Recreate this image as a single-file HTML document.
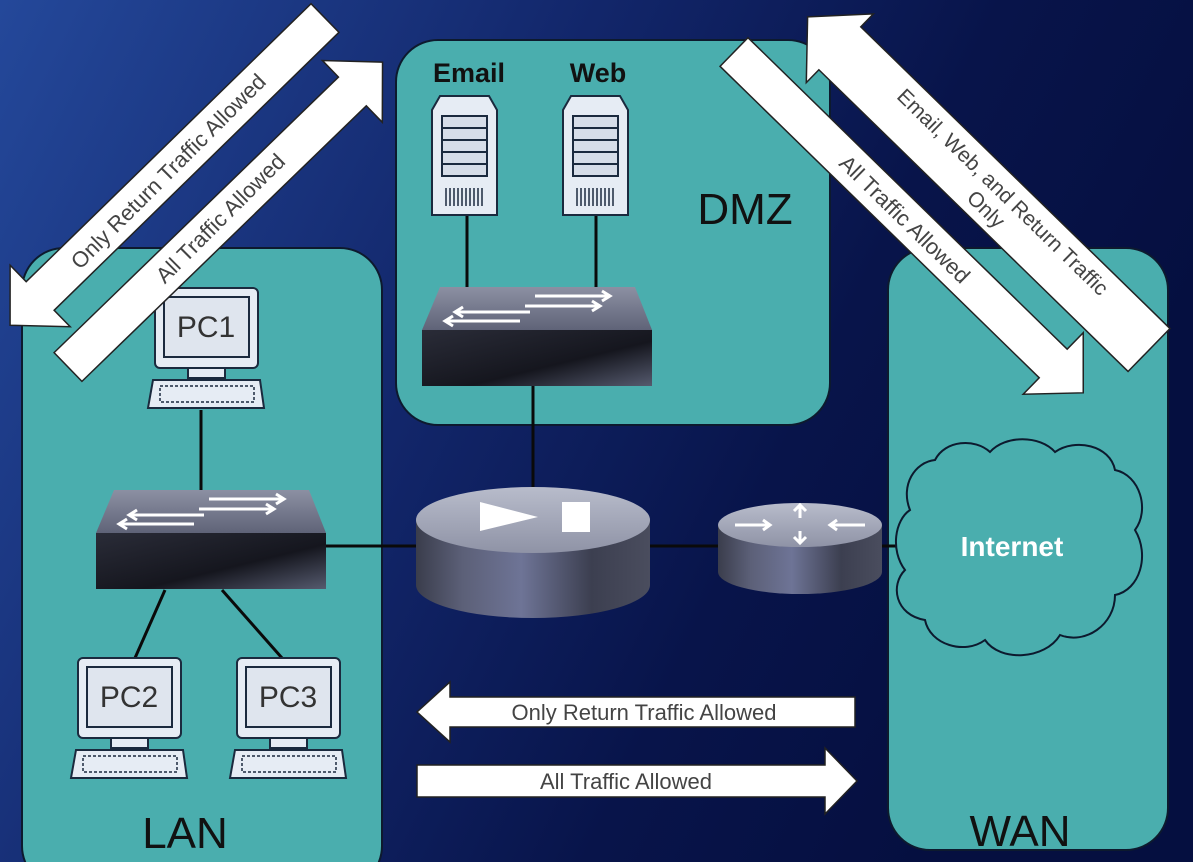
<!DOCTYPE html>
<html><head><meta charset="utf-8"><style>
html,body{margin:0;padding:0;width:1193px;height:862px;overflow:hidden;background:#0b1648}
svg{display:block}
text{font-family:"Liberation Sans",sans-serif}
</style></head><body>
<svg width="1193" height="862" viewBox="0 0 1193 862" xmlns="http://www.w3.org/2000/svg">
<defs>
<linearGradient id="bg" x1="0" y1="0" x2="1" y2="0.35">
<stop offset="0" stop-color="#24489a"/><stop offset="0.45" stop-color="#12266a"/><stop offset="0.75" stop-color="#08144a"/><stop offset="1" stop-color="#050f40"/>
</linearGradient>
<linearGradient id="cyl" x1="0" y1="0" x2="1" y2="0">
<stop offset="0" stop-color="#3a3d4c"/><stop offset="0.2" stop-color="#5c6078"/><stop offset="0.45" stop-color="#6e7496"/><stop offset="0.75" stop-color="#3c3f50"/><stop offset="1" stop-color="#4a4d5e"/>
</linearGradient>
<linearGradient id="cyltop" x1="0" y1="0" x2="0" y2="1">
<stop offset="0" stop-color="#b8bccb"/><stop offset="1" stop-color="#8f93a6"/>
</linearGradient>
<linearGradient id="swf" x1="0" y1="0" x2="1" y2="1">
<stop offset="0" stop-color="#2a2c38"/><stop offset="0.6" stop-color="#15161e"/><stop offset="1" stop-color="#555a6e"/>
</linearGradient>
<linearGradient id="swt" x1="0" y1="0" x2="0" y2="1">
<stop offset="0" stop-color="#8c90a3"/><stop offset="1" stop-color="#5f6378"/>
</linearGradient>
</defs>
<rect width="1193" height="862" fill="url(#bg)"/>

<rect x="22" y="248" width="360" height="640" rx="42" fill="#4aaeae" stroke="#0d1a2e" stroke-width="2"/>
<rect x="396" y="40" width="434" height="385" rx="42" fill="#4aaeae" stroke="#0d1a2e" stroke-width="2"/>
<rect x="888" y="248" width="280" height="602" rx="42" fill="#4aaeae" stroke="#0d1a2e" stroke-width="2"/>

<g font-size="44" fill="#111">
<text x="745" y="224" text-anchor="middle">DMZ</text>
<text x="185" y="848" text-anchor="middle">LAN</text>
<text x="1020" y="846" text-anchor="middle">WAN</text>
</g>

<g stroke="#0a0a0a" stroke-width="3" fill="none">
<line x1="467" y1="212" x2="467" y2="290"/>
<line x1="596" y1="212" x2="596" y2="290"/>
<line x1="533" y1="386" x2="533" y2="500"/>
<line x1="322" y1="546" x2="420" y2="546"/>
<line x1="650" y1="546" x2="720" y2="546"/>
<line x1="880" y1="546" x2="905" y2="546"/>
<line x1="201" y1="410" x2="201" y2="492"/>
<line x1="165" y1="590" x2="135" y2="658"/>
<line x1="222" y1="590" x2="282" y2="658"/>
</g>

<g id="srv">
<path d="M432 110 L440 96 L489 96 L497 110 L497 215 L432 215 Z" fill="#e6ecf4" stroke="#1b2a3e" stroke-width="2"/>
<rect x="442" y="116" width="45" height="60" fill="#d6dde8" stroke="#1b2a3e" stroke-width="2"/>
<g stroke="#1b2a3e" stroke-width="2"><line x1="442" y1="128" x2="487" y2="128"/><line x1="442" y1="140" x2="487" y2="140"/><line x1="442" y1="152" x2="487" y2="152"/><line x1="442" y1="164" x2="487" y2="164"/></g>
<g stroke="#1b2a3e" stroke-width="1.5"><line x1="446" y1="188" x2="446" y2="206"/><line x1="450" y1="188" x2="450" y2="206"/><line x1="454" y1="188" x2="454" y2="206"/><line x1="458" y1="188" x2="458" y2="206"/><line x1="462" y1="188" x2="462" y2="206"/><line x1="466" y1="188" x2="466" y2="206"/><line x1="470" y1="188" x2="470" y2="206"/><line x1="474" y1="188" x2="474" y2="206"/><line x1="478" y1="188" x2="478" y2="206"/><line x1="482" y1="188" x2="482" y2="206"/></g>
</g>
<use href="#srv" transform="translate(131,0)"/>
<text x="469" y="82" font-size="27" font-weight="bold" text-anchor="middle" fill="#111">Email</text>
<text x="598" y="82" font-size="27" font-weight="bold" text-anchor="middle" fill="#111">Web</text>

<g id="sw">
<path d="M422 330 L440 287 L635 287 L652 330 Z" fill="url(#swt)"/>
<path d="M422 330 L652 330 L652 386 L422 386 Z" fill="url(#swf)"/>
<g stroke="#fff" stroke-width="3" fill="none">
<path d="M535 296 L610 296 M602 291 L610 296 L602 301"/>
<path d="M525 306 L600 306 M592 301 L600 306 L592 311"/>
<path d="M530 312 L455 312 M463 307 L455 312 L463 317"/>
<path d="M520 321 L445 321 M453 316 L445 321 L453 326"/>
</g>
</g>
<use href="#sw" transform="translate(-326,203)"/>

<path d="M416 520 L416 585 A117 33 0 0 0 650 585 L650 520 Z" fill="url(#cyl)"/>
<ellipse cx="533" cy="520" rx="117" ry="33" fill="url(#cyltop)"/>
<path d="M480 502 L538 517 L480 531 Z" fill="#fff"/>
<rect x="562" y="502" width="28" height="30" fill="#fff"/>

<path d="M718 525 L718 572 A82 22 0 0 0 882 572 L882 525 Z" fill="url(#cyl)"/>
<ellipse cx="800" cy="525" rx="82" ry="22" fill="url(#cyltop)"/>
<g stroke="#fff" stroke-width="3" fill="none">
<path d="M735 525 L770 525 M763 520 L770 525 L763 530"/>
<path d="M865 525 L830 525 M837 520 L830 525 L837 530"/>
<path d="M800 518 L800 506 M794 511 L800 505 L806 511"/>
<path d="M800 531 L800 542 M794 537 L800 543 L806 537"/>
</g>

<path d="M935 460 C945 440 975 438 990 452 C1005 435 1040 435 1055 452 C1075 438 1110 445 1115 470 C1140 475 1150 510 1135 530 C1150 555 1140 590 1115 595 C1115 625 1085 645 1060 635 C1045 660 1000 662 985 640 C965 655 930 645 925 620 C895 615 890 585 905 570 C890 550 895 520 910 510 C900 485 915 462 935 460 Z" fill="#4aaeae" stroke="#0d1a2e" stroke-width="2"/>
<text x="1012" y="556" font-size="28" font-weight="bold" text-anchor="middle" fill="#fff">Internet</text>

<g id="pc">
<rect x="155" y="288" width="103" height="80" rx="5" fill="#e6ecf4" stroke="#1b2a3e" stroke-width="2"/>
<rect x="164" y="297" width="85" height="60" fill="#dfe5ee" stroke="#1b2a3e" stroke-width="2"/>
<rect x="188" y="368" width="37" height="10" fill="#e6ecf4" stroke="#1b2a3e" stroke-width="2"/>
<path d="M153 380 L260 380 L264 408 L148 408 Z" fill="#e6ecf4" stroke="#1b2a3e" stroke-width="2"/>
<rect x="160" y="386" width="94" height="16" fill="none" stroke="#1b2a3e" stroke-width="1.5" stroke-dasharray="3 2"/>
</g>
<use href="#pc" transform="translate(-77,370)"/>
<use href="#pc" transform="translate(82,370)"/>
<g font-size="30" fill="#333" text-anchor="middle">
<text x="206" y="337">PC1</text>
<text x="129" y="707">PC2</text>
<text x="288" y="707">PC3</text>
</g>

<g fill="#fff" stroke="#222" stroke-width="1.5">
<g transform="translate(325,18) rotate(135.7)"><path d="M0 -20 L398 -20 L398 -43 L440 0 L398 43 L398 20 L0 20 Z"/></g>
<g transform="translate(68,367) rotate(-44.1)"><path d="M0 -20 L396 -20 L396 -43 L438 0 L396 43 L396 20 L0 20 Z"/></g>
<g transform="translate(734,52) rotate(44.3)"><path d="M0 -20 L446 -20 L446 -43 L488 0 L446 43 L446 20 L0 20 Z"/></g>
<g transform="translate(1149,350) rotate(224.3)"><path d="M0 -30 L432 -30 L432 -48 L477 0 L432 48 L432 30 L0 30 Z"/></g>
</g>
<g font-size="22" fill="#444" text-anchor="middle">
<text transform="translate(168,171) rotate(-45)" y="8">Only Return Traffic Allowed</text>
<text transform="translate(220,218) rotate(-45)" y="8">All Traffic Allowed</text>
<text transform="translate(905,219) rotate(44.3)" y="8">All Traffic Allowed</text>
<text transform="translate(995,200) rotate(44.3)" y="-4" font-size="21">Email, Web, and Return Traffic</text>
<text transform="translate(995,200) rotate(44.3)" y="20" font-size="21">Only</text>
</g>

<g fill="#fff" stroke="#222" stroke-width="1.5">
<path d="M855 697 L450 697 L450 682 L417 712 L450 742 L450 727 L855 727 Z"/>
<path d="M417 765 L825 765 L825 748 L857 781 L825 814 L825 797 L417 797 Z"/>
</g>
<g font-size="22" fill="#444" text-anchor="middle">
<text x="644" y="720">Only Return Traffic Allowed</text>
<text x="626" y="789">All Traffic Allowed</text>
</g>
</svg>
</body></html>
